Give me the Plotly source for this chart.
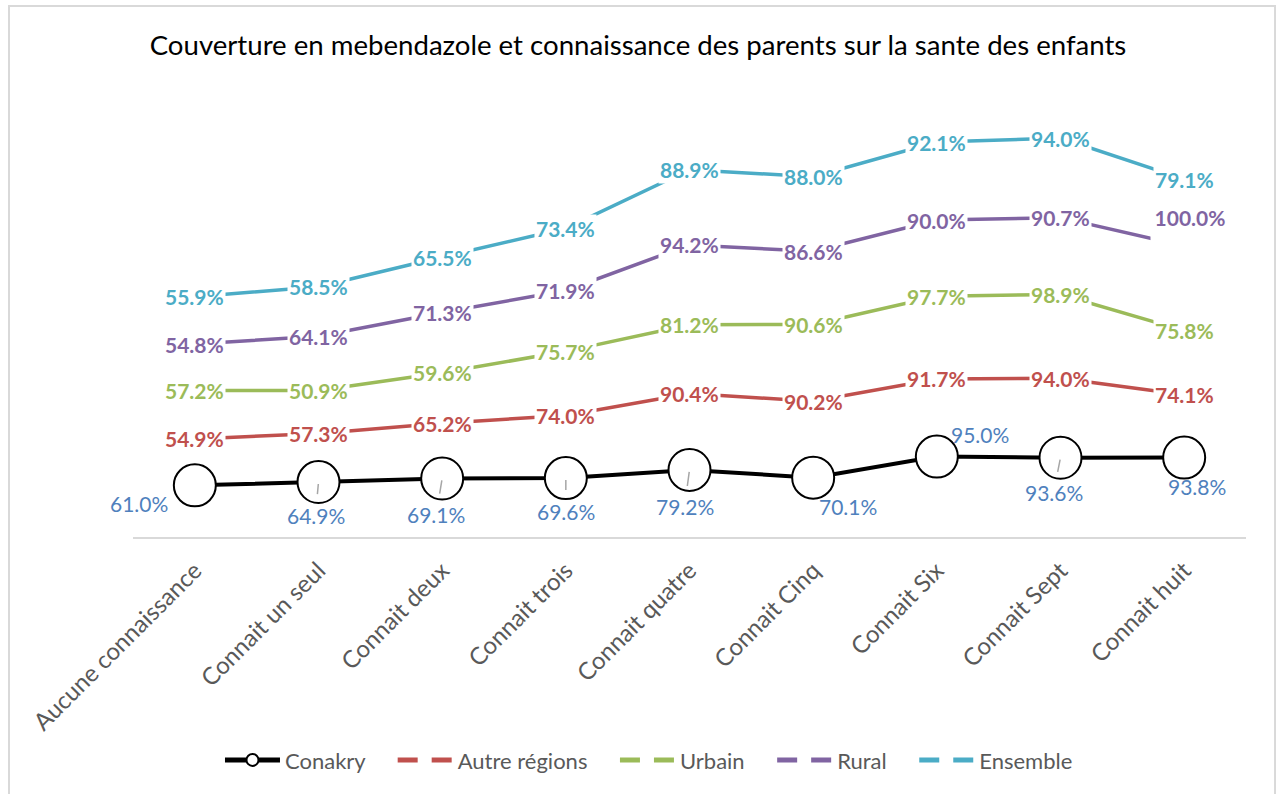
import numpy as np
import plotly.graph_objects as go

# ─── Data ────────────────────────────────────────────────────────────────────

categories = [
    "Aucune connaissance", "Connait un seul", "Connait deux", "Connait trois",
    "Connait quatre", "Connait Cinq", "Connait Six", "Connait Sept", "Connait huit",
]
conakry = [61.0, 64.9, 69.1, 69.6, 79.2, 70.1, 95.0, 93.6, 93.8]
autre_regions = [54.9, 57.3, 65.2, 74.0, 90.4, 90.2, 91.7, 94.0, 74.1]
urbain = [57.2, 50.9, 59.6, 75.7, 81.2, 90.6, 97.7, 98.9, 75.8]
rural = [54.8, 64.1, 71.3, 71.9, 94.2, 86.6, 90.0, 90.7, 100.0]
ensemble = [55.9, 58.5, 65.5, 73.4, 88.9, 88.0, 92.1, 94.0, 79.1]

# ─── Style ───────────────────────────────────────────────────────────────────

FONT = "Lato, 'Open Sans', sans-serif"
GREY = "#595959"
LABEL_BLUE = "#4F81BD"
PAD = "\u00a0" * 4  # extra room between legend entries
SERIES = [
    ("Autre régions", autre_regions, "#C0504D"),
    ("Urbain", urbain, "#9BBB59"),
    ("Rural", rural, "#8064A2"),
    ("Ensemble", ensemble, "#4BACC6"),
]
# pixel offsets of the Conakry labels (dx, dy, leader line shown)
conakry_offsets = [
    (-56, 18, False), (-3, 33, True), (-6, 36, True), (0, 33, True), (-5, 37, True),
    (35, 29, False), (43, -22, False), (-7, 35, True), (13, 29, False),
]

fig = go.Figure()

fig.add_trace(go.Scatter(
    x=categories, y=conakry, name="Conakry" + PAD,
    stackgroup="cov", fill="none", mode="lines+markers",
    line=dict(color="black", width=4),
    marker=dict(size=42, color="white", line=dict(color="black", width=2)),
))
for name, vals, color in SERIES:
    fig.add_trace(go.Scatter(
        x=categories, y=vals, name=name,
        stackgroup="cov", fill="none", mode="lines",
        line=dict(color=color, width=3.5),
        showlegend=False,
    ))
    # legend entry drawn dashed like the original
    fig.add_trace(go.Scatter(
        x=[None], y=[None], name=name + (PAD if name != "Ensemble" else ""), mode="lines",
        line=dict(color=color, width=3.5, dash="20px,14px"),
    ))

# ─── Data labels ─────────────────────────────────────────────────────────────

annotations = []
for cat, v, (dx, dy, leader) in zip(categories, conakry, conakry_offsets):
    annotations.append(dict(
        x=cat, y=v, xref="x", yref="y", text=f"{v:.1f}%",
        font=dict(family=FONT, size=21, color=LABEL_BLUE),
        showarrow=True, ax=dx, ay=dy, arrowhead=0, arrowwidth=1.5,
        arrowcolor="#A6A6A6" if leader else "rgba(0,0,0,0)",
        standoff=2, startstandoff=7,
    ))

level = np.array(conakry, dtype=float)
for name, vals, color in SERIES:
    level = level + np.array(vals)
    for i, (cat, v) in enumerate(zip(categories, vals)):
        ann = dict(
            x=cat, y=level[i], xref="x", yref="y", text=f"<b>{v:.1f}%</b>",
            font=dict(family=FONT, size=21, color=color),
            showarrow=False, bgcolor="white", borderpad=1,
        )
        if name == "Rural" and i == len(vals) - 1:
            # label lifted above the end of the line
            ann.update(height=46, valign="top", xshift=6, yshift=18, width=76)
        annotations.append(ann)

# ─── Layout ──────────────────────────────────────────────────────────────────

fig.update_layout(
    width=1276, height=794,
    margin=dict(l=133, r=30, t=112, b=257),
    paper_bgcolor="white", plot_bgcolor="white",
    font=dict(family=FONT, color=GREY),
    title=dict(
        text="Couverture en mebendazole et connaissance des parents sur la sante des enfants",
        font=dict(family=FONT, size=27.6, color="black"),
        x=0.5, xref="container", xanchor="center",
        y=1 - 45 / 794, yref="container", yanchor="middle",
    ),
    xaxis=dict(
        type="category", range=[-0.5, 8.5], tickangle=-45,
        tickfont=dict(family=FONT, size=24, color=GREY),
        showgrid=False, showline=True, linecolor="#D9D9D9", linewidth=2,
        ticks="", zeroline=False, ticklabelstandoff=8,
    ),
    yaxis=dict(
        range=[0, 502], visible=False, showgrid=False, zeroline=False,
    ),
    legend=dict(
        orientation="h", x=0.4636, xanchor="center", y=-0.525, yanchor="middle",
        font=dict(family=FONT, size=22, color=GREY),
        itemsizing="constant", itemwidth=55, bgcolor="rgba(0,0,0,0)",
    ),
    showlegend=True,
    annotations=annotations,
    shapes=[dict(
        type="rect", xref="paper", yref="paper",
        x0=-0.1114, x1=1.0261, y0=-0.62, y1=1.2494,
        line=dict(color="#D9D9D9", width=2), fillcolor="rgba(0,0,0,0)", layer="below",
    )],
)

# drop the browser's default page margin so the chart sits at the window origin
fig.write_html(
    "out.html",
    config={"displayModeBar": False},
    post_script="document.body.style.margin = '0';",
)
